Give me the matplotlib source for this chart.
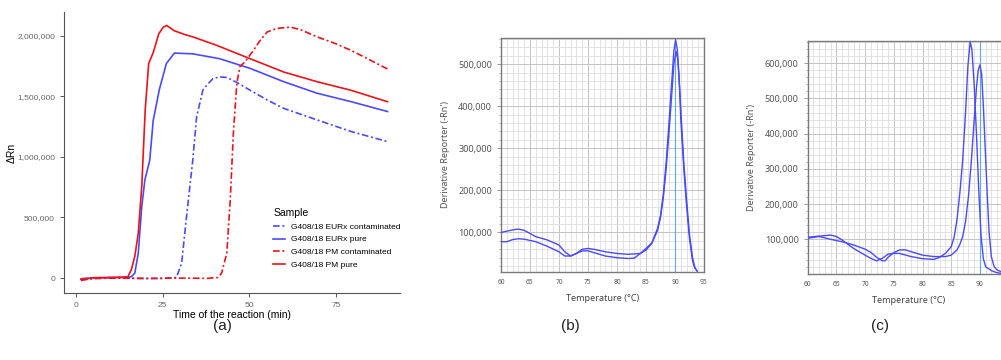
import matplotlib
matplotlib.use("Agg")
import matplotlib.pyplot as plt
from matplotlib.lines import Line2D
from matplotlib.ticker import FuncFormatter, MultipleLocator

# ---- panel (a): amplification curves ----
t_pm_pure = [1.5, 3, 5, 10, 15, 16, 17, 18, 19, 20, 21.0, 22.3, 23.9, 25.2, 26.2, 28.4, 31.3, 33.7, 40.6, 50.2, 59.9, 69.5, 79.2, 89.8]
y_pm_pure = [-10e3, -5e3, 3e3, 5e3, 10e3, 69e3, 180e3, 370e3, 755e3, 1.39e6, 1.77e6, 1.86e6, 2.015e6, 2.07e6, 2.084e6, 2.04e6, 2.01e6, 1.99e6, 1.92e6, 1.81e6, 1.70e6, 1.62e6, 1.55e6, 1.455e6]

t_eurx_pure = [1.5, 3, 5, 10, 15, 16, 17, 18, 19, 19.9, 21.3, 22.3, 24.1, 26.1, 28.4, 33.7, 41.4, 50.2, 59.9, 69.5, 79.2, 89.8]
y_eurx_pure = [-8e3, -4e3, 2e3, 4e3, 5e3, 12e3, 41e3, 206e3, 590e3, 810e3, 972e3, 1.30e6, 1.56e6, 1.77e6, 1.856e6, 1.85e6, 1.81e6, 1.73e6, 1.62e6, 1.525e6, 1.456e6, 1.374e6]

t_eurx_cont = [1.5, 3, 5, 10, 15, 20, 25, 29, 30.5, 31.9, 33.7, 34.8, 36.6, 37.7, 39.5, 41.4, 43.5, 46.2, 50.2, 55.1, 59.9, 69.5, 79.2, 89.8]
y_eurx_cont = [-5e3, -3e3, 2e3, 3e3, 0, -3e3, -3e3, 5e3, 124e3, 508e3, 972e3, 1.33e6, 1.55e6, 1.59e6, 1.645e6, 1.66e6, 1.655e6, 1.617e6, 1.55e6, 1.47e6, 1.40e6, 1.305e6, 1.21e6, 1.126e6]

t_pm_cont = [1.5, 3, 5, 10, 20, 30, 38, 41, 42, 43.5, 44.5, 45.4, 46.4, 47.3, 48.8, 51.2, 53.1, 55.1, 58.0, 61.8, 64.7, 69.5, 74.3, 79.2, 84.0, 89.8]
y_pm_cont = [-20e3, -12e3, -5e3, 0, -3e3, 0, -2e3, 5e3, 41e3, 206e3, 645e3, 1.20e6, 1.61e6, 1.745e6, 1.786e6, 1.88e6, 1.96e6, 2.03e6, 2.06e6, 2.07e6, 2.05e6, 1.99e6, 1.94e6, 1.88e6, 1.81e6, 1.725e6]

sample_labels = ["G408/18 EURx contaminated", "G408/18 EURx pure", "G408/18 PM contaminated", "G408/18 PM pure"]

# ---- panel (b): melt curves ----
temp_b1 = [60, 61, 62, 63, 64, 66, 68, 70, 71, 72, 73, 74, 75, 76, 78, 80, 82, 84, 85, 86, 87, 87.5, 88, 88.5, 89, 89.5, 89.8, 90.2, 90.5, 90.8, 91, 91.5, 92, 92.5, 93, 93.4, 93.8]
deriv_b1 = [100e3, 103e3, 106e3, 108e3, 105e3, 90e3, 82e3, 70e3, 54e3, 44e3, 50e3, 60e3, 62e3, 60e3, 54e3, 50e3, 48e3, 50e3, 58e3, 74e3, 105e3, 135e3, 185e3, 255e3, 344e3, 440e3, 500e3, 530e3, 510e3, 440e3, 368e3, 255e3, 162e3, 85e3, 35e3, 15e3, 9e3]
temp_b2 = [60, 61, 62, 63, 64, 66, 68, 70, 71, 72, 73, 74, 75, 76, 78, 80, 82, 83, 84, 85, 86, 87, 87.5, 88, 88.5, 89, 89.5, 89.8, 90.1, 90.4, 90.7, 91, 91.5, 92, 92.5, 93, 93.4, 93.8]
deriv_b2 = [78e3, 78e3, 83e3, 85e3, 84e3, 78e3, 67e3, 54e3, 44e3, 44e3, 50e3, 56e3, 56.5e3, 52e3, 44e3, 40e3, 38e3, 39e3, 50e3, 62e3, 75e3, 110e3, 140e3, 193e3, 270e3, 368e3, 470e3, 530e3, 558e3, 535e3, 470e3, 392e3, 270e3, 177e3, 95e3, 42e3, 18e3, 8e3]

# ---- panel (c): melt curves ----
temp_c1 = [60, 62, 64, 65, 66, 68, 70, 71, 72, 73, 74, 75, 76, 78, 80, 82, 83, 84, 85, 85.5, 86, 86.5, 87, 87.5, 87.9, 88.3, 88.6, 89, 89.4, 89.8, 90.2, 90.6, 91, 92, 93, 94, 95]
deriv_c1 = [106e3, 109e3, 112e3, 108e3, 98e3, 74e3, 55e3, 46e3, 39e3, 46e3, 58e3, 60e3, 60e3, 51e3, 45e3, 43e3, 49e3, 60e3, 79e3, 105e3, 155e3, 230e3, 325e3, 460e3, 590e3, 661e3, 640e3, 540e3, 400e3, 240e3, 110e3, 45e3, 22e3, 11e3, 5e3, 3e3, 2e3]
temp_c2 = [60, 62, 64, 66, 68, 70, 71, 72, 73, 73.5, 74, 75, 76, 77, 78, 80, 82, 84, 85, 86, 86.5, 87, 87.5, 88, 88.5, 89, 89.4, 89.7, 90.0, 90.3, 90.6, 91, 91.3, 91.6, 92, 92.5, 93, 93.7, 95]
deriv_c2 = [103e3, 108e3, 100e3, 93e3, 84e3, 72e3, 63e3, 49e3, 39e3, 39e3, 49e3, 62e3, 70e3, 70e3, 65e3, 55e3, 51e3, 51e3, 55e3, 70e3, 85e3, 108e3, 150e3, 221e3, 320e3, 439e3, 530e3, 580e3, 595e3, 570e3, 480e3, 330e3, 220e3, 120e3, 50e3, 22e3, 13e3, 8e3, 4e3]

BLUE = "#4b4bf5"
RED = "#e8141c"
dotdash = (0, (4, 1.6, 1.2, 1.6))

fig = plt.figure(figsize=(10.01, 3.6), dpi=100)

comma = FuncFormatter(lambda v, p: "{:,.0f}".format(v))

# panel (a)
ax = fig.add_axes([64 / 1001, 67 / 360, 336 / 1001, 281 / 360])
ax.plot(t_eurx_cont, y_eurx_cont, color=BLUE, lw=1.2, linestyle=dotdash)
ax.plot(t_eurx_pure, y_eurx_pure, color=BLUE, lw=1.2)
ax.plot(t_pm_cont, y_pm_cont, color=RED, lw=1.2, linestyle=dotdash)
ax.plot(t_pm_pure, y_pm_pure, color=RED, lw=1.2)
ax.set_xlim(-3.4, 93.4)
ax.set_ylim(-123e3, 2.195e6)
ax.set_xticks([0, 25, 50, 75])
ax.set_yticks([0, 500e3, 1e6, 1.5e6, 2e6])
ax.yaxis.set_major_formatter(comma)
for s in ["top", "right"]:
    ax.spines[s].set_visible(False)
for s in ["left", "bottom"]:
    ax.spines[s].set_color("#555555")
    ax.spines[s].set_linewidth(0.8)
ax.tick_params(colors="#555555", labelcolor="#666666", labelsize=6, length=3, width=0.7)
for lab in ax.get_xticklabels() + ax.get_yticklabels():
    lab.set_family("Liberation Sans")
ax.set_xlabel("Time of the reaction (min)", family="Liberation Sans", fontsize=7.5, labelpad=1)
ax.set_ylabel("\u0394Rn", family="Liberation Sans", fontsize=7.5, labelpad=0.5)

handles = [Line2D([], [], color=BLUE, lw=1.2, linestyle=dotdash),
           Line2D([], [], color=BLUE, lw=1.2),
           Line2D([], [], color=RED, lw=1.2, linestyle=dotdash),
           Line2D([], [], color=RED, lw=1.2)]
leg = ax.legend(handles, sample_labels, title="Sample", loc="upper left",
                bbox_to_anchor=(0.6, 0.33), frameon=False,
                prop={"family": "Liberation Sans", "size": 6},
                handlelength=1.4, handletextpad=0.8, labelspacing=0.6,
                alignment="left")
leg.get_title().set_family("Liberation Sans")
leg.get_title().set_fontsize(7.5)


def melt_panel(rect, ylim, xticks, yticks, curves):
    a = fig.add_axes(rect)
    for tx, dy in curves:
        a.plot(tx, dy, color=BLUE, lw=1.0, zorder=3)
    a.axvline(90, color="#5aa8ff", lw=0.8, zorder=2)
    a.set_xlim(60, 95)
    a.set_ylim(*ylim)
    a.set_xticks(xticks)
    a.set_yticks(yticks)
    a.xaxis.set_minor_locator(MultipleLocator(1))
    a.yaxis.set_minor_locator(MultipleLocator(20000))
    a.yaxis.set_major_formatter(comma)
    a.grid(which="major", color="#c4c4c4", lw=0.7, zorder=0)
    a.grid(which="minor", color="#dedede", lw=0.6, zorder=0)
    a.set_axisbelow(True)
    for s in a.spines.values():
        s.set_color("#7a7a7a")
        s.set_linewidth(1.0)
    a.tick_params(axis="y", labelsize=6.5, labelcolor="#555555", colors="#888888", length=3, width=0.6)
    a.tick_params(axis="y", which="minor", length=1.5, colors="#aaaaaa")
    a.tick_params(axis="x", labelsize=4.8, labelcolor="#555555", colors="#888888", length=0, pad=5)
    a.tick_params(axis="x", which="minor", length=0)
    for lab in a.get_xticklabels() + a.get_yticklabels():
        lab.set_family("Noto Sans")
    a.set_xlabel("Temperature (\u00b0C)", family="Noto Sans", fontsize=6.5, color="#444444", labelpad=6)
    a.set_ylabel("Derivative Reporter (-Rn')", family="Noto Sans", fontsize=6.5, color="#555555", labelpad=6)
    return a


melt_panel([501 / 1001, 88 / 360, 203 / 1001, 234 / 360], (6000, 562000),
           list(range(60, 96, 5)), [100000, 200000, 300000, 400000, 500000],
           [(temp_b1, deriv_b1), (temp_b2, deriv_b2)])
melt_panel([807.7 / 1001, 86 / 360, 200.9 / 1001, 233.3 / 360], (1500, 664000),
           list(range(60, 91, 5)), [100000, 200000, 300000, 400000, 500000, 600000],
           [(temp_c1, deriv_c1), (temp_c2, deriv_c2)])

for x, txt in [(222, "(a)"), (570, "(b)"), (880, "(c)")]:
    fig.text(x / 1001, 1 - 326 / 360, txt, ha="center", va="center", fontsize=11,
             family="Liberation Sans", color="#222222")

fig.savefig("out.png", dpi=100)
